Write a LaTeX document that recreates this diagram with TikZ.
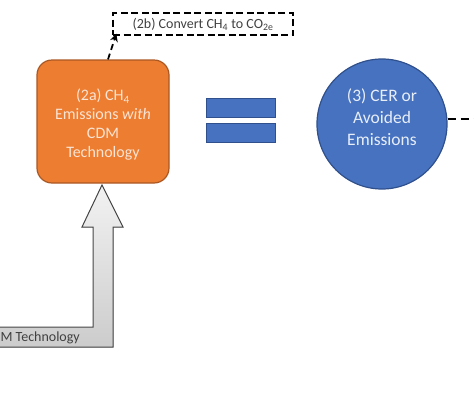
\documentclass[tikz,border=0pt]{standalone}
\usepackage{fontspec}
\setmainfont{Carlito}
\usetikzlibrary{arrows.meta}
\definecolor{orfill}{RGB}{237,125,49}
\definecolor{ordraw}{RGB}{170,88,36}
\definecolor{ortext}{RGB}{250,228,212}
\definecolor{blfill}{RGB}{70,114,192}
\definecolor{bldraw}{RGB}{47,80,140}
\definecolor{bltext}{RGB}{232,238,248}
\definecolor{grdraw}{RGB}{70,70,70}
\tikzset{
  orbox/.style={draw=ordraw, line width=1.2pt, fill=orfill, rounded corners=15pt,
    minimum width=132pt, minimum height=123pt, text=ortext, align=center,
    font=\fontsize{16}{19}\selectfont},
  blcirc/.style={circle, draw=bldraw, line width=1.2pt, fill=blfill, minimum size=130pt,
    text=bltext, align=center, font=\fontsize{17.5}{22}\selectfont, inner sep=0pt},
  dbox/.style={draw=black, dashed, line width=1.3pt, dash pattern=on 7pt off 3.5pt,
    minimum width=180pt, minimum height=22pt, font=\fontsize{14}{16}\selectfont,
    text=black!75},
  eqbar/.style={draw=bldraw, line width=1pt, fill=blfill, minimum width=69pt, minimum height=19pt},
  conn/.style={line width=1.8pt, dash pattern=on 6pt off 4pt, -{Stealth[length=8pt,width=8pt]}},
}
\begin{document}
\begin{tikzpicture}[x=1pt,y=-1pt]
\useasboundingbox (0,0) rectangle (474,410);
\node[orbox] (o) at (103,121.5) {};
\node[text=ortext, align=center, font=\fontsize{16}{19}\selectfont] (ot) at (103,125) {(2a) CH\textsubscript{4}\\Emissions \textit{with}\\CDM\\Technology};
\node[blcirc] (c) at (382,124) {};
\node[text=bltext, align=center, font=\fontsize{17.5}{22}\selectfont] (ct) at (382,117) {(3) CER or\\Avoided\\Emissions};
\node[dbox] (d) at (203,24) {(2b) Convert CH\textsubscript{4} to CO\textsubscript{2e}};
\node[eqbar] (e1) at (240.5,108) {};
\node[eqbar] (e2) at (240.5,133) {};
\draw[conn] ([xshift=5pt]o.north) -- ([xshift=4pt,yshift=2pt]d.south west);
\coordinate (ce) at (474,119);
\draw[line width=1.8pt, dash pattern=on 8pt off 5pt] ([yshift=5pt]c.east) -- (ce);
% bent block arrow
\fill[top color=gray!10, bottom color=gray!40] (0,327) -- (93,327) -- (93,227) -- (82,227) -- (102,185) -- (123,227) -- (113,227) -- (113,347) -- (0,347) -- cycle;
\draw[grdraw, line width=1pt, line join=miter] (0,327) -- (93,327) -- (93,227) -- (82,227) -- (102,185) -- (123,227) -- (113,227) -- (113,347) -- (0,347);
\node[anchor=east, text=black!75, font=\fontsize{14}{16}\selectfont, inner sep=0pt] (t) at (80,338) {M Technology};
\end{tikzpicture}
\end{document}
